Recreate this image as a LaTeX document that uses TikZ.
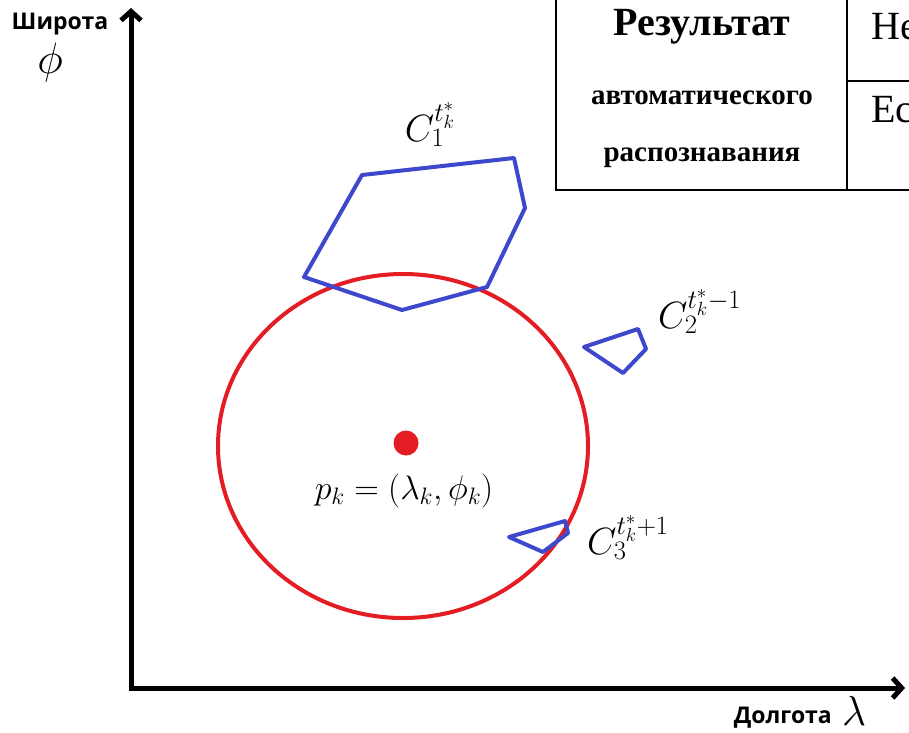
\documentclass[tikz,border=0pt]{standalone}
\usepackage{fix-cm}
\usepackage{fontspec}
\setmainfont{Liberation Serif}
\newfontfamily\axisfont{Open Sans}
\usetikzlibrary{arrows.meta}
\definecolor{zonered}{RGB}{228,28,36}
\definecolor{regionblue}{RGB}{62,72,204}

\begin{document}
\begin{tikzpicture}[
    x=1pt, y=-1pt,
    axis/.style={line width=5pt, -{Straight Barb[length=9pt, width=20pt]}},
    region/.style={draw=regionblue, line width=4pt, line join=round},
    zone/.style={draw=zonered, line width=4pt},
    cell/.style={line width=1.6pt},
    axislabel/.style={font=\axisfont\bfseries\fontsize{23}{26}\selectfont, inner sep=0pt},
    mathlabel/.style={font=\fontsize{38}{40}\selectfont, inner sep=0pt},
    tabhead/.style={font=\bfseries\fontsize{29}{32}\selectfont, inner sep=0pt}
]

    \useasboundingbox (0,0) rectangle (909,732);
    \clip (0,0) rectangle (909,732);

    % Axes
    \coordinate (origin) at (131,688);
    \coordinate (ytip) at (131,8);
    \coordinate (xtip) at (905,688);
    \draw[axis] ([yshift=-2.5pt]origin) -- (ytip);
    \draw[axis] ([xshift=-2.5pt]origin) -- (xtip);

    % Axis labels
    \node[axislabel] (lat) at (60,24) {Широта};
    \node[mathlabel, font=\fontsize{44}{46}\selectfont] (phi) at (50,62) {$\phi$};
    \node[axislabel, anchor=east] (lon) at (832,718) {Долгота};
    \node[mathlabel, font=\fontsize{42}{44}\selectfont, anchor=west] (lam) at (842,711) {$\lambda$};

    % Search zone
    \draw[zone] (403,446) ellipse [x radius=185, y radius=172];
    \node[circle, fill=zonered, minimum size=25pt, inner sep=0pt] (pk) at (406,443) {};
    \node[font=\fontsize{34}{36}\selectfont, inner sep=0pt] (pklabel) at (404,491) {$p_k = (\lambda_k, \phi_k)$};

    % Candidate regions
    \draw[region] (362,175) -- (514,158) -- (525,208) -- (487,287) -- (402,310) -- (304,277) -- cycle;
    \draw[region] (584,347) -- (638,329) -- (646,349) -- (623,373) -- cycle;
    \draw[region] (509,537) -- (565,521) -- (568,533) -- (543,552) -- cycle;

    % Region labels
    \node[mathlabel] (c1) at (430,125) {$C_1^{t_k^*}$};
    \node[mathlabel, anchor=west] (c2) at (658,312) {$C_2^{t_k^*-1}$};
    \node[mathlabel, anchor=west] (c3) at (587,538) {$C_3^{t_k^*+1}$};

    % Table
    \draw[cell] (556,-10) rectangle (930,190);
    \draw[cell] (847,-10) -- (847,190);
    \draw[cell] (847,81) -- (930,81);
    \node[font=\bfseries\fontsize{40}{42}\selectfont, inner sep=0pt] (head) at (702,27) {Результат};
    \node[tabhead] (head2) at (702,98) {автоматического};
    \node[tabhead] (head3) at (702,158) {распознавания};
    \node[font=\fontsize{40}{42}\selectfont, inner sep=0pt, anchor=west] (val1) at (871,27) {Не};
    \node[font=\fontsize{40}{42}\selectfont, inner sep=0pt, anchor=west] (val2) at (871,110) {Ес};

\end{tikzpicture}
\end{document}
